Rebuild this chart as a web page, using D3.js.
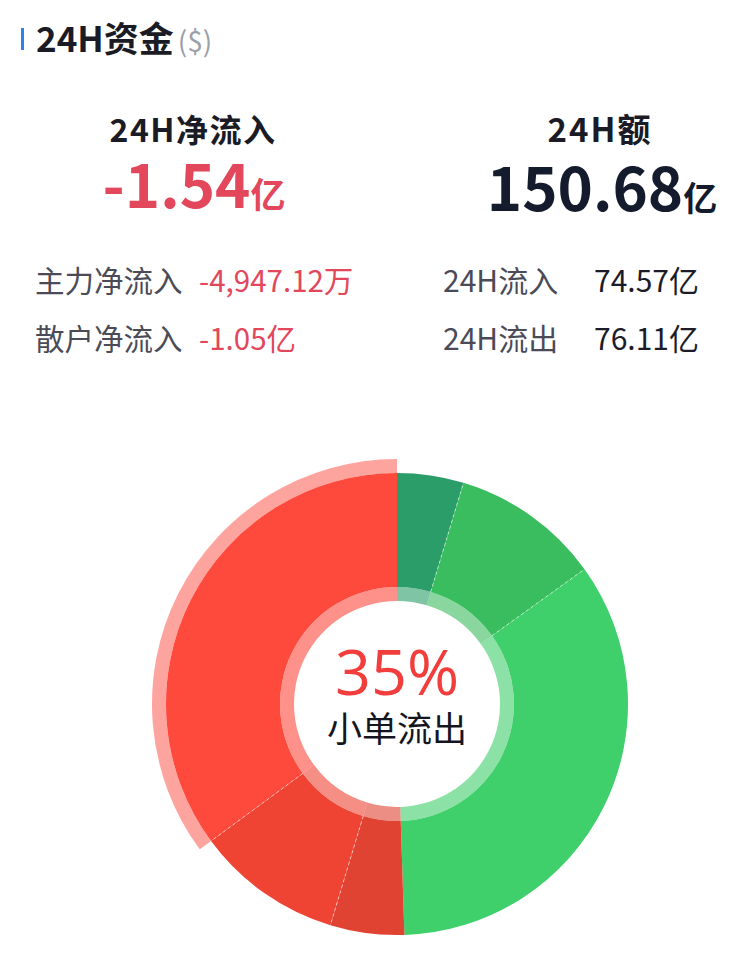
<!DOCTYPE html>
<html><head><meta charset="utf-8">
<script src="https://cdn.jsdelivr.net/npm/d3@7"></script>
<style>
html,body{margin:0;padding:0;background:#fff;}
svg{display:block;font-family:"Noto Sans CJK SC","Noto Sans",sans-serif;}
</style></head>
<body>
<svg id="chart" width="750" height="980"></svg>
<script>
// ---- data ----
const categories = ["大单流入","中单流入","小单流入","大单流出","中单流出","小单流出"];
const values = [7.00, 15.72, 51.85, 7.79, 15.42, 52.90]; // 亿
const sliceColors = ["#2a9d69","#3abd5e","#3fcf6b","#e04332","#ef4333","#fe4a3d"];
const netInflow = "-1.54";
const totalAmount = "150.68";
const leftRows = [["主力净流入","-4,947.12万"],["散户净流入","-1.05亿"]];
const rightRows = [["24H流入","74.57亿"],["24H流出","76.11亿"]];
const selectedIndex = 5;

const svg = d3.select("#chart");

// ---- header ----
svg.append("rect").attr("x",21).attr("y",28).attr("width",3).attr("height",22).attr("fill","#3580e8");
const h = svg.append("text").attr("x",36).attr("y",52);
h.append("tspan").text("24H资金").attr("font-size",35).attr("font-weight",700).attr("fill","#1b1b26");
h.append("tspan").text("($)").attr("font-size",28).attr("fill","#9aa0a9").attr("dx",4);

// ---- summary ----
svg.append("text").attr("x",193).attr("y",142).attr("text-anchor","middle")
  .attr("font-size",32).attr("letter-spacing",1.5).attr("font-weight",700).attr("fill","#1b1b26").text("24H净流入");
const t1 = svg.append("text").attr("x",194).attr("y",208).attr("text-anchor","middle").attr("fill","#e2475b").attr("font-weight",700);
t1.append("tspan").attr("font-size",60).text(netInflow);
t1.append("tspan").attr("font-size",35).text("亿");

svg.append("text").attr("x",600).attr("y",142).attr("text-anchor","middle")
  .attr("font-size",33).attr("letter-spacing",2).attr("font-weight",700).attr("fill","#1b1b26").text("24H额");
const t2 = svg.append("text").attr("x",602).attr("y",211).attr("text-anchor","middle").attr("fill","#141b2d").attr("font-weight",700);
t2.append("tspan").attr("font-size",60).text(totalAmount);
t2.append("tspan").attr("font-size",34).text("亿");

leftRows.forEach((r,i)=>{
  const y = 292 + i*58;
  svg.append("text").attr("x",35).attr("y",y).attr("font-size",29.5).attr("fill","#4b4b57").text(r[0]);
  svg.append("text").attr("x",199).attr("y",y).attr("font-size",29.5).attr("fill","#e2475b").text(r[1]);
});
rightRows.forEach((r,i)=>{
  const y = 292 + i*58;
  svg.append("text").attr("x",443).attr("y",y).attr("font-size",30).attr("fill","#4b4b57").text(r[0]);
  svg.append("text").attr("x",594).attr("y",y).attr("font-size",30).attr("fill","#1c1c28").text(r[1]);
});

// ---- donut ----
const cx = 397, cy = 704;
const g = svg.append("g").attr("transform",`translate(${cx},${cy})`);
const pie = d3.pie().sort(null).value(d=>d);
const arcs = pie(values);
const arcMain = d3.arc().innerRadius(117).outerRadius(231);
const arcInner = d3.arc().innerRadius(103).outerRadius(117);
const arcHi = d3.arc().innerRadius(231).outerRadius(245);

g.selectAll("path.inner").data(arcs).join("path").attr("class","inner")
  .attr("d",arcInner).attr("fill",(d,i)=>sliceColors[i]).attr("fill-opacity",0.6);
g.selectAll("path.main").data(arcs).join("path").attr("class","main")
  .attr("d",arcMain).attr("fill",(d,i)=>sliceColors[i]);
g.append("path").datum(arcs[selectedIndex]).attr("d",arcHi)
  .attr("fill",sliceColors[selectedIndex]).attr("fill-opacity",0.5);

// separators between slices of same group
arcs.forEach((d,i)=>{
  if(i===0||i===1||i===3||i===4){
    const a = d.endAngle;
    g.append("line")
      .attr("x1",117*Math.sin(a)).attr("y1",-117*Math.cos(a))
      .attr("x2",231*Math.sin(a)).attr("y2",-231*Math.cos(a))
      .attr("stroke","#fff").attr("stroke-opacity",0.6).attr("stroke-width",1)
      .attr("stroke-dasharray","3,3");
  }
});

const total = d3.sum(values);
const pct = Math.round(values[selectedIndex]/total*100);
g.append("text").attr("text-anchor","middle").attr("y",-9).attr("font-size",63)
  .attr("fill","#f23d3d").attr("font-family","'Open Sans','Noto Sans',sans-serif").text(pct+"%");
g.append("text").attr("text-anchor","middle").attr("y",38).attr("font-size",35)
  .attr("fill","#15151f").text(categories[selectedIndex]);
</script>
</body></html>
